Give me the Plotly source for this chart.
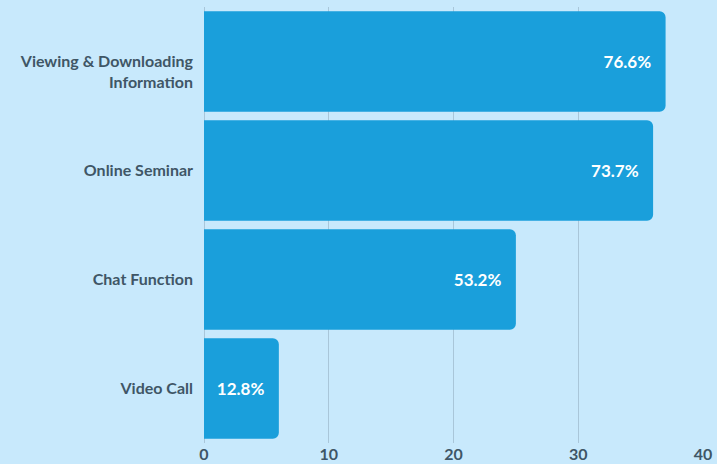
import plotly.graph_objects as go

# categories top-to-bottom in the picture
categories = ["Viewing & Downloading<br>Information", "Online Seminar", "Chat Function", "Video Call"]
bar_values = [37, 36, 25, 6]
bar_labels = ["76.6%", "73.7%", "53.2%", "12.8%"]
x_ticks = [0, 10, 20, 30, 40]

bg = "#C8E9FC"
bar_color = "#1A9FDB"
text_color = "#3F5666"
grid_color = "#A9C6D9"

# multi-line labels hang below the bar centre in the original, pad with an empty first line
tick_text = ["\u00a0<br>" + c if "<br>" in c else c for c in categories]

fig = go.Figure()
fig.add_trace(go.Bar(
    y=categories,
    x=bar_values,
    orientation="h",
    marker=dict(color=bar_color, line=dict(width=0), cornerradius=6),
    text=[t + "\u2002" for t in bar_labels],
    textposition="inside",
    insidetextanchor="end",
    textangle=0,
    textfont=dict(family="Lato", size=17, color="white", weight="bold"),
    hoverinfo="skip",
))

fig.update_layout(
    width=717, height=464,
    margin=dict(l=204, r=14, t=7, b=21, autoexpand=False),
    paper_bgcolor=bg,
    plot_bgcolor=bg,
    bargap=0.078,
    showlegend=False,
    font=dict(family="Lato", size=16, color=text_color, weight="bold"),
)
fig.update_xaxes(
    range=[0, 40],
    tickvals=x_ticks,
    showgrid=True, gridcolor=grid_color, gridwidth=1,
    zeroline=True, zerolinecolor=grid_color, zerolinewidth=1,
    showline=False,
    ticks="",
    automargin=False,
    tickfont=dict(family="Lato", size=16, color=text_color, weight="bold"),
)
fig.update_yaxes(
    categoryorder="array",
    categoryarray=categories[::-1],
    tickvals=categories,
    ticktext=tick_text,
    showgrid=False,
    showline=False,
    ticks="",
    automargin=False,
    ticklabelstandoff=10,
    tickfont=dict(family="Lato", size=16, color=text_color, weight="bold"),
)

# drop the page's default body margin so the chart fills the window
fig.write_html(
    "out.html",
    config={"displayModeBar": False},
    post_script="document.body.style.margin='0';document.body.style.background='" + bg + "';",
)
